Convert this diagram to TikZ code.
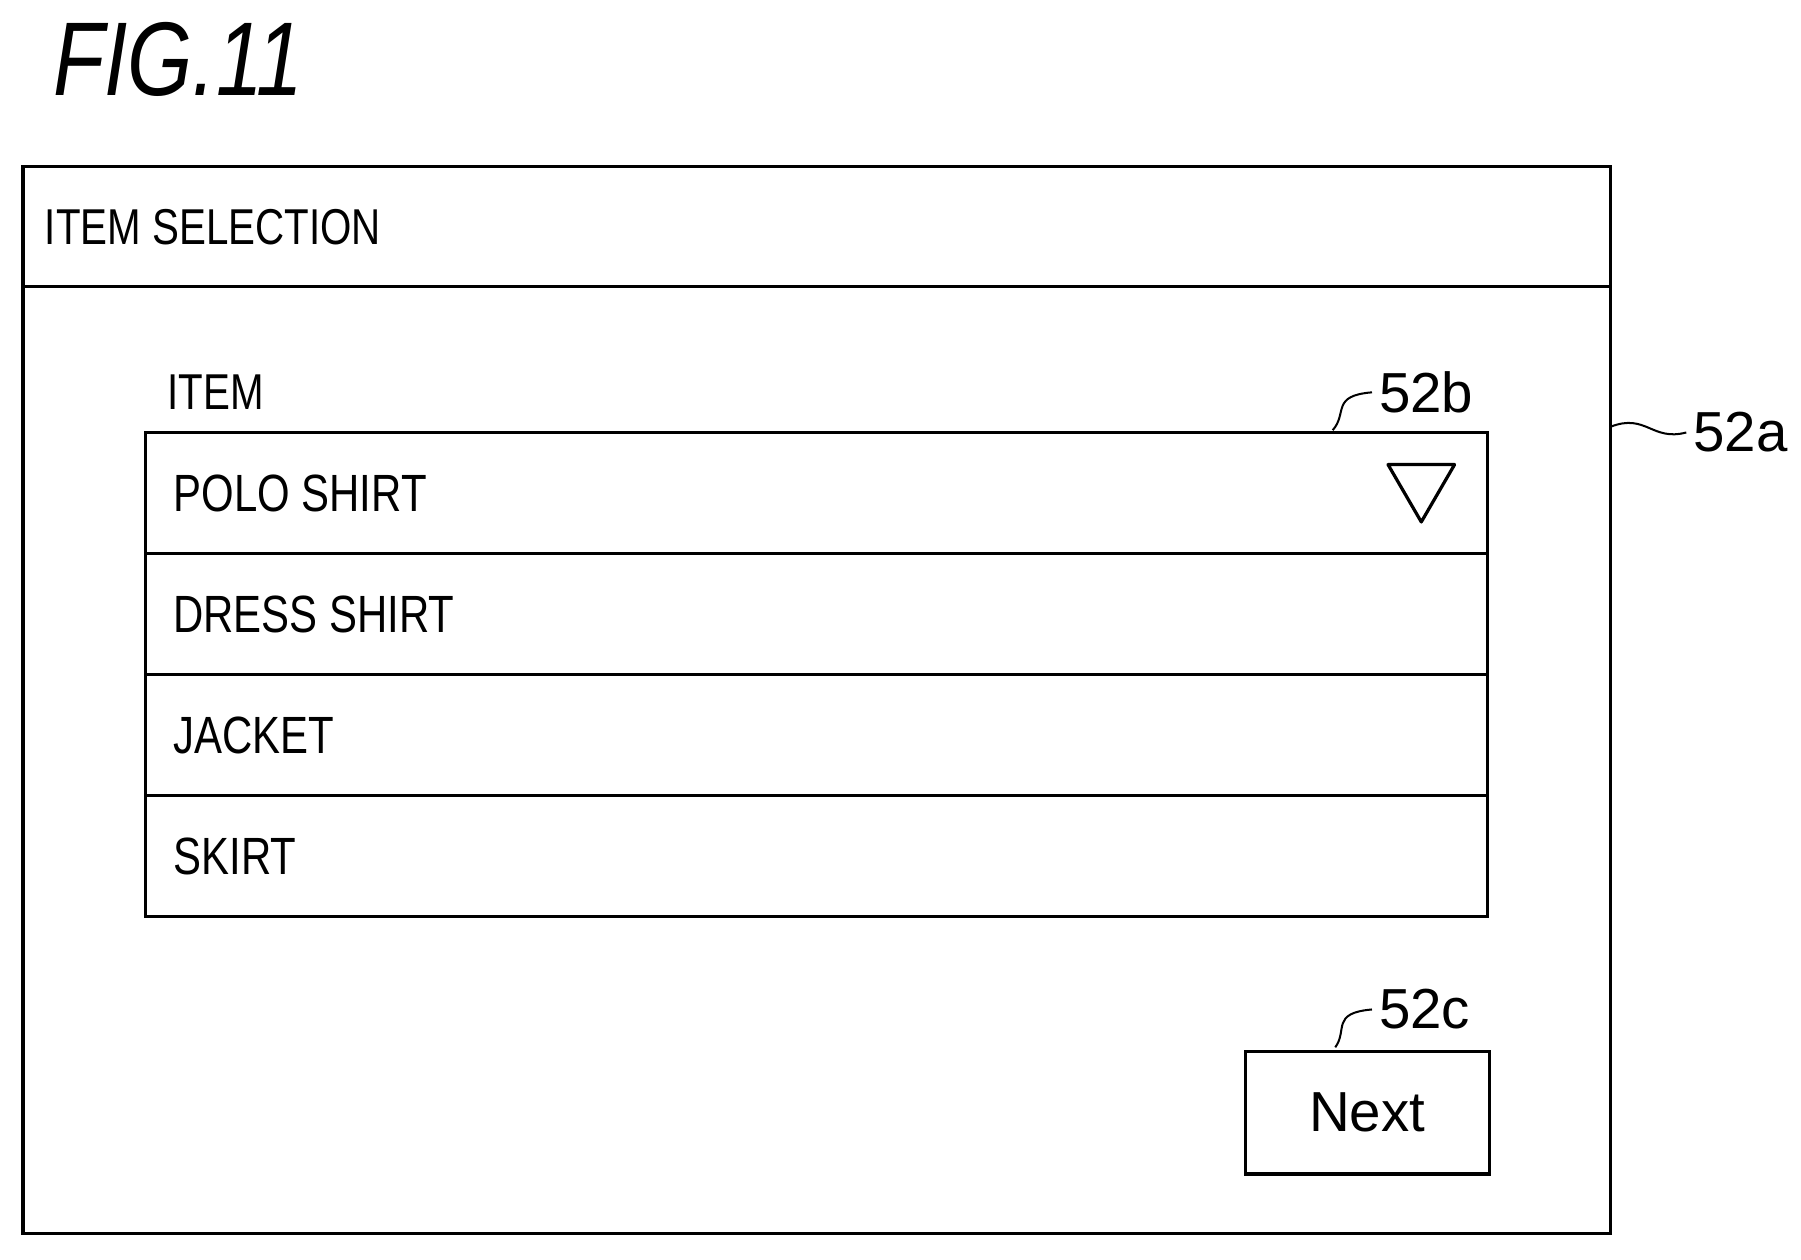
\documentclass[tikz,border=0pt]{standalone}
\usepackage{fontspec}
\usepackage{graphicx}
\setmainfont{Liberation Sans}
\usetikzlibrary{positioning,calc}

\newcommand{\narrowtext}[1]{\scalebox{0.8}[1]{#1}}

\tikzset{
  frame/.style = {draw, line width=1.6pt},
  rowbox/.style = {draw, line width=1.6pt, minimum width=23.4cm, minimum height=2.11cm,
                   inner sep=0pt, outer sep=0pt, anchor=north west},
  rowtext/.style = {anchor=west, font=\fontsize{26}{30}\selectfont},
  reflabel/.style = {anchor=west, font=\fontsize{28}{32}\selectfont},
  leader/.style = {line width=1pt}
}

\begin{document}
\begin{tikzpicture}[x=0.02cm, y=-0.02cm]
    \useasboundingbox (0,0) rectangle (1570,1098);

    \node[anchor=west, font=\fontsize{52}{60}\selectfont\itshape] (fig) at (40,52) {\narrowtext{FIG.11}};

    % window
    \draw[frame] (20,145) rectangle (1404,1075);
    \draw[frame] (20,250) -- (1404,250);
    \coordinate (win) at (1404,372);
    \node[rowtext, font=\fontsize{25}{30}\selectfont] (title) at (33,198) {\narrowtext{ITEM SELECTION}};

    % item list
    \node[rowtext, font=\fontsize{25}{30}\selectfont] (itemlbl) at (140,342) {\narrowtext{ITEM}};
    \node[rowbox] (polo) at (127,377) {};
    \node[rowbox, below=0pt of polo] (dress) {};
    \node[rowbox, below=0pt of dress] (jacket) {};
    \node[rowbox, below=0pt of jacket] (skirt) {};
    \node[rowtext] at ($(polo.west)+(18,0)$) {\narrowtext{POLO SHIRT}};
    \node[rowtext] at ($(dress.west)+(18,0)$) {\narrowtext{DRESS SHIRT}};
    \node[rowtext] at ($(jacket.west)+(18,0)$) {\narrowtext{JACKET}};
    \node[rowtext] at ($(skirt.west)+(18,0)$) {\narrowtext{SKIRT}};
    \draw[line width=1.6pt, line join=round] (1210,405) -- (1268,405) -- (1239,455) -- cycle;

    % button
    \node[draw, line width=1.6pt, minimum width=4.26cm, minimum height=2.14cm, anchor=north west,
          font=\fontsize{28}{32}\selectfont] (next) at (1084,915) {Next};

    % reference labels
    \node[reflabel] (l52a) at (1470,377) {52a};
    \node[reflabel] (l52b) at (1196,342) {52b};
    \node[reflabel] (l52c) at (1196,880) {52c};
    \draw[leader] (win) .. controls (1435,360) and (1440,385) .. (l52a.west);
    \draw[leader] ($(polo.north east)+(-135,-2)$) .. controls (1175,360) and (1160,345) .. (l52b.west);
    \draw[leader] ($(next.north west)+(80,-2)$) .. controls (1175,898) and (1160,883) .. (l52c.west);
\end{tikzpicture}
\end{document}
